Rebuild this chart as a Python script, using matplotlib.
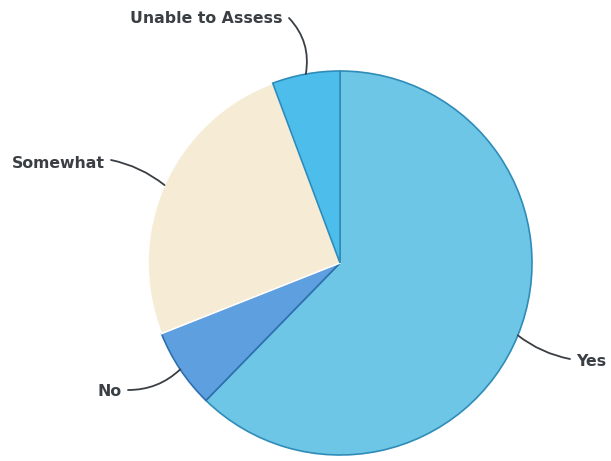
import numpy as np
import matplotlib
matplotlib.use("Agg")
import matplotlib.pyplot as plt

labels = ["Yes", "No", "Somewhat", "Unable to Assess"]
values = [62.3, 6.7, 25.3, 5.7]
colors = ["#6ec6e6", "#5e9fe0", "#f6ecd6", "#4dbdec"]
edge_colors = ["#2f8cb8", "#2f6fae", "#ffffff", "#2f8cb8"]

W, H = 611, 461
fig = plt.figure(figsize=(W / 100, H / 100), dpi=100)
ax = fig.add_axes([0, 0, 1, 1])

cx, cy, R = 340, H - 263, 192
wedges, _ = ax.pie(values, colors=colors, startangle=90, counterclock=False,
                   center=(cx, cy), radius=R, frame=True,
                   wedgeprops=dict(linewidth=1.2))
for w, ec in zip(wedges, edge_colors):
    w.set_edgecolor(ec)
ax.set_xlim(0, W)
ax.set_ylim(0, H)
ax.axis("off")

# label text positions (pixel coords, y from top), alignment, leader curvature
label_pos = {
    "Unable to Assess": (282, 19, "right", -0.25),
    "Somewhat": (105, 163, "right", -0.12),
    "No": (122, 392, "right", 0.2),
    "Yes": (576, 362, "left", -0.12),
}
line_start = {
    "Unable to Assess": (289, 18),
    "Somewhat": (111, 160),
    "No": (128, 390),
    "Yes": (570, 359),
}
for w, lab in zip(wedges, labels):
    mid = np.deg2rad((w.theta1 + w.theta2) / 2)
    ex = cx + R * np.cos(mid)
    ey = cy + R * np.sin(mid)
    tx, ty, ha, rad = label_pos[lab]
    ax.text(tx, H - ty, lab, ha=ha, va="center", fontsize=11.3,
            fontweight="bold", color="#3a3f44", family="DejaVu Sans")
    sx, sy = line_start[lab]
    ax.annotate("", xy=(ex, ey), xytext=(sx, H - sy),
                arrowprops=dict(arrowstyle="-", color="#3a3f44", lw=1.3,
                                connectionstyle=f"arc3,rad={rad}",
                                shrinkA=0, shrinkB=0))

fig.savefig("out.png", dpi=100)
